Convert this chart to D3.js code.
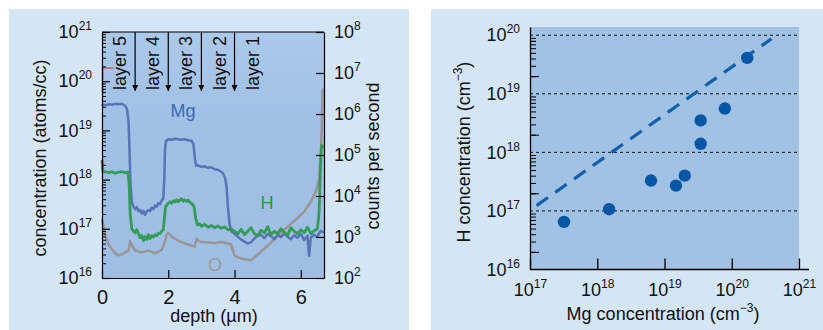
<!DOCTYPE html>
<html>
<head>
<meta charset="utf-8">
<script src="https://cdn.jsdelivr.net/npm/d3@7"></script>
<style>
  body { margin: 0; background: #fff; }
  text { font-family: "Liberation Sans", Arial, sans-serif; }
</style>
</head>
<body>
<svg id="chart" width="823" height="330"></svg>
<script>
// ---- left panel: SIMS depth profile (depth in um, log10 concentration) ----
const depthTicks = [0, 2, 4, 6];
const concExp = [16, 17, 18, 19, 20, 21];
const countExp = [2, 3, 4, 5, 6, 7, 8];
const layerNames = ["layer 5", "layer 4", "layer 3", "layer 2", "layer 1"];
const layerLabelDepth = [0.55, 1.55, 2.55, 3.55, 4.55];
const layerEdges = [1, 2, 3, 4];

const mgProfile = [
  [0.00, 19.50], [0.03, 19.52], [0.1, 19.51], [0.2, 19.53], [0.3, 19.52], [0.4, 19.54], [0.5, 19.53],
  [0.6, 19.54], [0.7, 19.50], [0.75, 19.44], [0.8, 19.20], [0.83, 18.60], [0.86, 17.90], [0.9, 17.55],
  [0.95, 17.45], [1.0, 17.40], [1.05, 17.44], [1.1, 17.36], [1.15, 17.38], [1.2, 17.31], [1.25, 17.36],
  [1.3, 17.28], [1.35, 17.35], [1.4, 17.38], [1.45, 17.36], [1.5, 17.43], [1.55, 17.40], [1.6, 17.47],
  [1.65, 17.45], [1.7, 17.52], [1.75, 17.50], [1.8, 17.57], [1.85, 17.62], [1.88, 18.00], [1.9, 18.60],
  [1.93, 18.78], [2.0, 18.82], [2.1, 18.81], [2.2, 18.83], [2.3, 18.82], [2.4, 18.81], [2.5, 18.82],
  [2.6, 18.80], [2.7, 18.79], [2.76, 18.72], [2.8, 18.45], [2.84, 18.28], [2.9, 18.29], [3.0, 18.26],
  [3.1, 18.27], [3.2, 18.24], [3.3, 18.25], [3.4, 18.21], [3.5, 18.20], [3.6, 18.16], [3.66, 18.12],
  [3.72, 18.02], [3.76, 17.85], [3.8, 17.45], [3.85, 17.10], [3.9, 16.95], [4.0, 16.90], [4.1, 16.84],
  [4.2, 16.78], [4.3, 16.74], [4.4, 16.70], [4.5, 16.73], [4.6, 16.80], [4.7, 16.86], [4.8, 16.88],
  [4.9, 16.81], [5.0, 16.90], [5.1, 16.85], [5.2, 16.79], [5.3, 16.88], [5.4, 16.83], [5.5, 16.90],
  [5.6, 16.84], [5.7, 16.79], [5.8, 16.87], [5.9, 16.82], [6.0, 16.90], [6.1, 16.77], [6.2, 16.86],
  [6.25, 16.45], [6.3, 16.82], [6.4, 16.88], [6.5, 16.84], [6.6, 16.96], [6.7, 16.92]
];

const hProfile = [
  [0.00, 18.40], [0.03, 18.15], [0.1, 18.16], [0.2, 18.14], [0.3, 18.16], [0.4, 18.13], [0.5, 18.15],
  [0.6, 18.16], [0.7, 18.14], [0.78, 18.15], [0.82, 17.90], [0.85, 17.30], [0.9, 17.00], [0.95, 16.95],
  [1.0, 16.92], [1.05, 16.98], [1.1, 16.90], [1.15, 16.82], [1.2, 16.86], [1.25, 16.76], [1.3, 16.84],
  [1.35, 16.78], [1.4, 16.88], [1.45, 16.80], [1.5, 16.86], [1.55, 16.83], [1.6, 16.88], [1.65, 16.86],
  [1.7, 16.91], [1.75, 16.90], [1.8, 16.95], [1.85, 16.98], [1.88, 17.20], [1.92, 17.45], [2.0, 17.52],
  [2.05, 17.55], [2.1, 17.52], [2.15, 17.57], [2.2, 17.55], [2.25, 17.59], [2.3, 17.55], [2.35, 17.58],
  [2.4, 17.61], [2.45, 17.56], [2.5, 17.59], [2.55, 17.56], [2.6, 17.58], [2.65, 17.54], [2.7, 17.52],
  [2.78, 17.45], [2.83, 17.20], [2.88, 17.08], [2.95, 17.10], [3.0, 17.05], [3.1, 17.09], [3.2, 17.03],
  [3.3, 17.07], [3.4, 17.02], [3.5, 17.06], [3.6, 17.01], [3.7, 17.04], [3.8, 16.98], [3.9, 17.00],
  [4.0, 16.95], [4.1, 16.90], [4.2, 16.99], [4.3, 16.88], [4.4, 16.95], [4.5, 17.02], [4.6, 16.90],
  [4.7, 16.86], [4.8, 16.97], [4.9, 16.92], [5.0, 17.04], [5.1, 16.88], [5.2, 16.95], [5.3, 16.90],
  [5.4, 17.00], [5.5, 16.93], [5.6, 16.87], [5.7, 17.02], [5.8, 16.95], [5.9, 16.90], [6.0, 16.98],
  [6.1, 16.92], [6.2, 17.03], [6.3, 16.90], [6.4, 16.96], [6.5, 17.00], [6.55, 17.30], [6.6, 18.40],
  [6.63, 18.70], [6.7, 18.65]
];

const oProfile = [
  [0.00, 17.20], [0.05, 17.05], [0.1, 16.85], [0.2, 16.68], [0.3, 16.58], [0.4, 16.50], [0.5, 16.46],
  [0.6, 16.48], [0.7, 16.52], [0.8, 16.56], [0.85, 16.75], [0.9, 16.66], [1.0, 16.56], [1.2, 16.52],
  [1.4, 16.56], [1.6, 16.50], [1.8, 16.57], [1.88, 16.70], [1.95, 16.88], [2.0, 16.92], [2.1, 16.84],
  [2.3, 16.76], [2.5, 16.70], [2.7, 16.66], [2.8, 16.64], [2.85, 16.80], [2.9, 16.76], [3.0, 16.73],
  [3.2, 16.72], [3.4, 16.71], [3.6, 16.73], [3.8, 16.70], [3.9, 16.68], [3.95, 16.56], [4.0, 16.46],
  [4.1, 16.42], [4.3, 16.38], [4.5, 16.36], [4.7, 16.48], [4.9, 16.60], [5.1, 16.72], [5.3, 16.85],
  [5.5, 16.98], [5.7, 17.10], [5.9, 17.22], [6.1, 17.35], [6.3, 17.55], [6.45, 17.75], [6.55, 18.00],
  [6.6, 18.50], [6.63, 19.00], [6.66, 19.85]
];

const redProfile = [[0.02, 19.75], [0.02, 20.27], [0.35, 20.27]];

// ---- right panel: H versus Mg concentration (cm^-3) ----
const mgConc = [3.2e17, 1.5e18, 6.3e18, 1.48e19, 2.0e19, 3.45e19, 3.45e19, 7.9e19, 1.7e20];
const hConc  = [6.5e16, 1.07e17, 3.3e17, 2.7e17, 4.0e17, 3.5e18, 1.4e18, 5.6e18, 4.1e19];
const fitMg = [1.25e17, 3.9e20];
const fitH  = [1.23e17, 8.7e19];
const mgExp = [17, 18, 19, 20, 21];
const hExp  = [16, 17, 18, 19, 20];

const svg = d3.select("#chart");
const panelColor = "#d4e5f5";
const plotColor = "#a1c1e5";

svg.append("rect").attr("x", 9).attr("y", 9).attr("width", 400).attr("height", 321).attr("fill", panelColor);
svg.append("rect").attr("x", 431).attr("y", 9).attr("width", 392).attr("height", 321).attr("fill", panelColor);

// powers of ten as "10" + superscript
function powLabel(sel, e) {
  sel.text(null);
  sel.append("tspan").text("10");
  sel.append("tspan").attr("font-size", 12).attr("dy", -8).text(e);
}

function minorTicks(lo, hi) {
  const out = [];
  for (let e = lo; e < hi; e++) for (let m = 2; m <= 9; m++) out.push(m * Math.pow(10, e));
  return out;
}

// ================= LEFT =================
const x1 = d3.scaleLinear().domain([0, 6.7]).range([102, 324]);
const y1 = d3.scaleLog().domain([1e16, 1e21]).range([278, 32]);
const y1r = d3.scaleLog().domain([1e2, 1e8]).range([278, 32]);

const grad = svg.append("defs").append("linearGradient").attr("id", "lg").attr("x1", 0).attr("y1", 0).attr("x2", 0).attr("y2", 1);
grad.append("stop").attr("offset", 0).attr("stop-color", "#abc9ea");
grad.append("stop").attr("offset", 0.35).attr("stop-color", "#a0c0e5");
grad.append("stop").attr("offset", 1).attr("stop-color", "#9ebee3");

svg.append("rect").attr("x", x1(0)).attr("y", y1(1e21))
  .attr("width", x1(6.7) - x1(0)).attr("height", y1(1e16) - y1(1e21))
  .attr("fill", "url(#lg)");

const line1 = d3.line().x(d => x1(d[0])).y(d => y1(Math.pow(10, d[1])));

svg.append("path").datum(oProfile).attr("d", line1).attr("fill", "none")
  .attr("stroke", "#9a9697").attr("stroke-width", 2.5).attr("stroke-linejoin", "round");
svg.append("path").datum(mgProfile).attr("d", line1).attr("fill", "none")
  .attr("stroke", "#4f6db0").attr("stroke-width", 2.5).attr("stroke-linejoin", "round").attr("opacity", 0.9);
svg.append("path").datum(hProfile).attr("d", line1).attr("fill", "none")
  .attr("stroke", "#2e9a4e").attr("stroke-width", 2.8).attr("stroke-linejoin", "round").attr("opacity", 0.95);
svg.append("path").datum(redProfile).attr("d", line1).attr("fill", "none")
  .attr("stroke", "#c06464").attr("stroke-width", 2).attr("opacity", 0.8);

// layer arrows and labels
svg.append("defs").append("marker").attr("id", "arr")
  .attr("viewBox", "0 0 10 10").attr("refX", 10).attr("refY", 5)
  .attr("markerWidth", 6).attr("markerHeight", 6).attr("markerUnits", "userSpaceOnUse")
  .attr("orient", "auto")
  .append("path").attr("d", "M0,0L10,5L0,10Z").attr("fill", "#000");

svg.selectAll(".edge").data(layerEdges).enter().append("line")
  .attr("x1", d => x1(d)).attr("x2", d => x1(d))
  .attr("y1", y1(1e21)).attr("y2", 91)
  .attr("stroke", "#000").attr("stroke-width", 1.2)
  .attr("marker-end", "url(#arr)");

svg.selectAll(".layer").data(layerNames).enter().append("text")
  .attr("transform", (d, i) => `translate(${x1(layerLabelDepth[i]) + 6},90) rotate(-90)`)
  .attr("font-size", 18).attr("fill", "#111").text(d => d);

svg.append("text").attr("x", 183).attr("y", 117).attr("text-anchor", "middle")
  .attr("font-size", 18).attr("fill", "#3c68b4").text("Mg");
svg.append("text").attr("x", 267).attr("y", 209).attr("text-anchor", "middle")
  .attr("font-size", 18).attr("fill", "#1f9a48").text("H");
svg.append("text").attr("x", 215).attr("y", 271).attr("text-anchor", "middle")
  .attr("font-size", 18).attr("fill", "#a09a9a").text("O");

// axes
const gxl = svg.append("g").attr("transform", `translate(0,${y1(1e16)})`)
  .call(d3.axisBottom(x1).tickValues(depthTicks).tickFormat(d3.format("d"))
    .tickSizeInner(-8).tickSizeOuter(0).tickPadding(12));
const gyl = svg.append("g").attr("transform", `translate(${x1(0)},0)`)
  .call(d3.axisLeft(y1).tickValues(concExp.map(e => Math.pow(10, e))).tickSizeInner(-8).tickSizeOuter(0).tickPadding(10));
gyl.selectAll(".tick text").each(function (d) { powLabel(d3.select(this), Math.round(Math.log10(d))); });
svg.append("g").attr("transform", `translate(${x1(0)},0)`)
  .call(d3.axisLeft(y1).tickValues(minorTicks(16, 21)).tickSize(-4).tickFormat(""))
  .select(".domain").remove();
const gyr = svg.append("g").attr("transform", `translate(${x1(6.7)},0)`)
  .call(d3.axisRight(y1r).tickValues(countExp.map(e => Math.pow(10, e))).tickSizeInner(-8).tickSizeOuter(0).tickPadding(10));
gyr.selectAll(".tick text").each(function (d) { powLabel(d3.select(this), Math.round(Math.log10(d))); });
svg.append("line").attr("x1", x1(0)).attr("x2", x1(6.7)).attr("y1", y1(1e21)).attr("y2", y1(1e21))
  .attr("stroke", "#000").attr("stroke-width", 1.2);

[gxl, gyl, gyr].forEach(g => {
  g.selectAll("text").attr("font-size", 18).attr("fill", "#111").attr("font-family", null);
  g.selectAll("line, path").attr("stroke", "#000").attr("stroke-width", 1.2);
});
gxl.selectAll(".tick text").attr("font-size", 20);

svg.append("text").attr("transform", "translate(46,158) rotate(-90)").attr("text-anchor", "middle")
  .attr("font-size", 18).attr("fill", "#111").text("concentration (atoms/cc)");
svg.append("text").attr("transform", "translate(379,156) rotate(-90)").attr("text-anchor", "middle")
  .attr("font-size", 18).attr("fill", "#111").text("counts per second");
svg.append("text").attr("x", 214).attr("y", 322).attr("text-anchor", "middle")
  .attr("font-size", 18).attr("fill", "#111").text("depth (\u00b5m)");

// ================= RIGHT =================
const x2 = d3.scaleLog().domain([1e17, 1e21]).range([530, 799]);
const y2 = d3.scaleLog().domain([1e16, Math.pow(10, 20.14)]).range([269.5, 27]);

svg.append("rect").attr("x", 530).attr("y", y2.range()[1])
  .attr("width", 799 - 530).attr("height", y2.range()[0] - y2.range()[1]).attr("fill", plotColor);

svg.selectAll(".grid").data(hExp.slice(1)).enter().append("line")
  .attr("x1", 530).attr("x2", 799)
  .attr("y1", d => y2(Math.pow(10, d))).attr("y2", d => y2(Math.pow(10, d)))
  .attr("stroke", "#111").attr("stroke-width", 1).attr("stroke-dasharray", "3,3");

svg.append("line")
  .attr("x1", x2(fitMg[0])).attr("y1", y2(fitH[0]))
  .attr("x2", x2(fitMg[1])).attr("y2", y2(fitH[1]))
  .attr("stroke", "#1060b0").attr("stroke-width", 3.2).attr("stroke-dasharray", "14,9");

svg.selectAll(".dot").data(mgConc).enter().append("circle")
  .attr("cx", d => x2(d)).attr("cy", (d, i) => y2(hConc[i])).attr("r", 6.2)
  .attr("fill", "#0757a7");

const gx2 = svg.append("g").attr("transform", `translate(0,269.5)`)
  .call(d3.axisBottom(x2).tickValues(mgExp.map(e => Math.pow(10, e))).tickSizeInner(-11).tickSizeOuter(0).tickPadding(14));
gx2.select(".domain").attr("d", "M530,0H809");
gx2.selectAll(".tick text").each(function (d) { powLabel(d3.select(this), Math.round(Math.log10(d))); });
const gy2 = svg.append("g").attr("transform", `translate(530,0)`)
  .call(d3.axisLeft(y2).tickValues(hExp.map(e => Math.pow(10, e))).tickSizeInner(0).tickSizeOuter(0).tickPadding(10));
gy2.selectAll(".tick text").each(function (d) { powLabel(d3.select(this), Math.round(Math.log10(d))); });
svg.append("g").attr("transform", `translate(530,0)`)
  .call(d3.axisLeft(y2).tickValues(minorTicks(16, 20).concat([2e20 / 2.5])).tickSize(-6).tickFormat(""))
  .select(".domain").remove();
svg.append("g").attr("transform", `translate(530,0)`)
  .call(d3.axisLeft(y2).tickValues([2e16, 2e17, 2e18, 2e19]).tickSize(-9).tickFormat(""))
  .select(".domain").remove();

[gx2, gy2].forEach(g => {
  g.selectAll("text").attr("font-size", 18).attr("fill", "#111").attr("font-family", null);
  g.selectAll("line, path").attr("stroke", "#000").attr("stroke-width", 1.3);
});
svg.selectAll("g line").attr("stroke", "#000");

svg.append("text").attr("transform", "translate(470,152) rotate(-90)").attr("text-anchor", "middle")
  .attr("font-size", 18).attr("fill", "#111")
  .call(t => {
    t.append("tspan").text("H concentration (cm");
    t.append("tspan").attr("font-size", 12).attr("dy", -8).text("\u22123");
    t.append("tspan").attr("dy", 8).text(")");
  });
svg.append("text").attr("x", 663).attr("y", 320).attr("text-anchor", "middle")
  .attr("font-size", 18).attr("fill", "#111")
  .call(t => {
    t.append("tspan").text("Mg concentration (cm");
    t.append("tspan").attr("font-size", 12).attr("dy", -8).text("\u22123");
    t.append("tspan").attr("dy", 8).text(")");
  });
</script>
</body>
</html>
